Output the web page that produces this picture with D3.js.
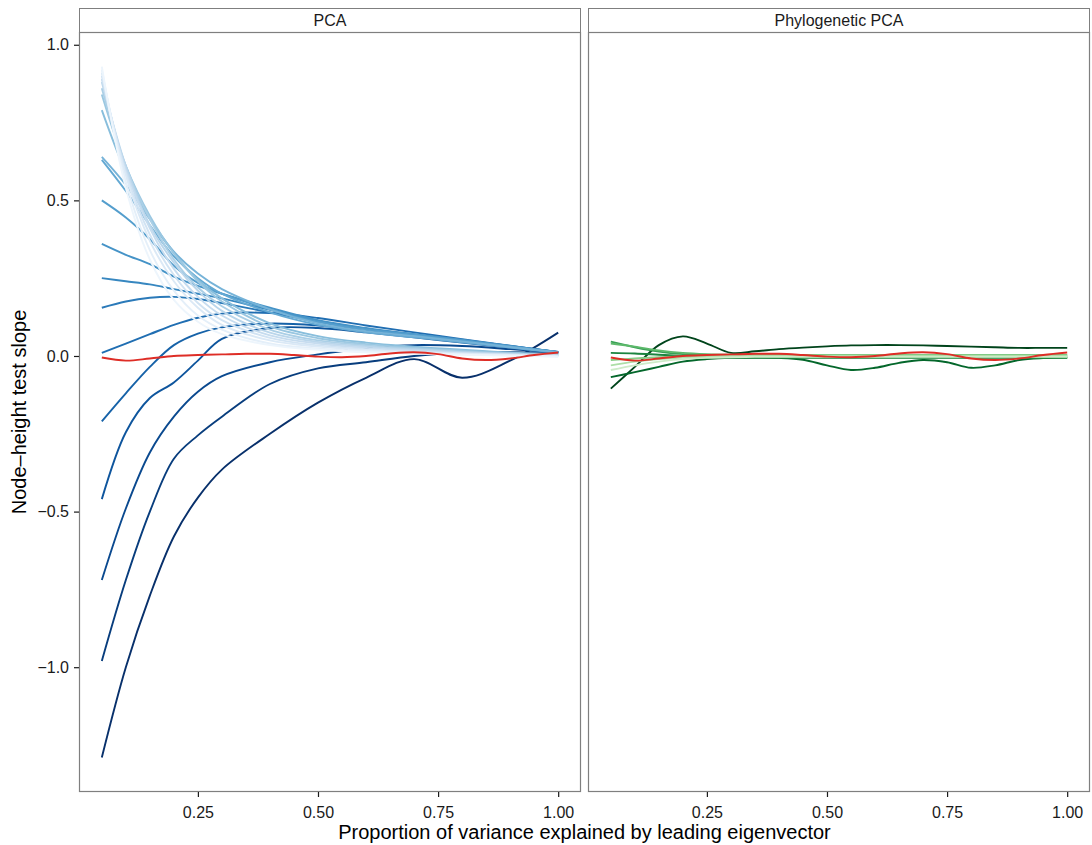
<!DOCTYPE html>
<html>
<head>
<meta charset="utf-8">
<script src="https://cdn.jsdelivr.net/npm/d3@7"></script>
<style>
  body { margin: 0; background: #fff; }
  text { font-family: "Liberation Sans", Arial, sans-serif; }
</style>
</head>
<body>
<svg id="chart" width="1092" height="845"></svg>
<script>
// knots along the x axis (proportion of variance)
var xCoarse = [0.05, 0.1, 0.15, 0.2, 0.25, 0.3, 0.4, 0.5, 0.6, 0.7, 0.8, 0.9, 1.0];
var xFine = [0.05, 0.1, 0.15, 0.2, 0.25, 0.3, 0.35, 0.4, 0.45, 0.5,
             0.55, 0.6, 0.65, 0.7, 0.75, 0.8, 0.85, 0.9, 0.95, 1.0];

var panels = ["PCA", "Phylogenetic PCA"];
var xTicks = [0.25, 0.5, 0.75, 1.0];
var yTicks = [-1.0, -0.5, 0.0, 0.5, 1.0];

// PCA panel, palest line first, darkest last (values on xCoarse)
var pcaSlopes = [
  [0.93, 0.54, 0.31, 0.18, 0.11, 0.07, 0.035, 0.02, 0.012, 0.008, 0.004, 0.001, -0.002],
  [0.92, 0.56, 0.34, 0.21, 0.13, 0.085, 0.04, 0.024, 0.015, 0.01, 0.005, 0.002, -0.002],
  [0.91, 0.58, 0.37, 0.24, 0.155, 0.10, 0.05, 0.03, 0.019, 0.012, 0.007, 0.003, 0.0],
  [0.90, 0.59, 0.39, 0.26, 0.17, 0.115, 0.058, 0.034, 0.022, 0.014, 0.008, 0.004, 0.0],
  [0.89, 0.60, 0.41, 0.28, 0.19, 0.13, 0.066, 0.04, 0.026, 0.017, 0.01, 0.005, 0.001],
  [0.88, 0.61, 0.42, 0.30, 0.21, 0.145, 0.075, 0.045, 0.03, 0.02, 0.012, 0.006, 0.002],
  [0.86, 0.61, 0.44, 0.31, 0.22, 0.16, 0.085, 0.05, 0.034, 0.023, 0.014, 0.008, 0.003],
  [0.84, 0.61, 0.45, 0.33, 0.24, 0.175, 0.095, 0.057, 0.038, 0.026, 0.017, 0.009, 0.004],
  [0.79, 0.59, 0.44, 0.33, 0.245, 0.185, 0.105, 0.064, 0.043, 0.03, 0.02, 0.011, 0.005],
  [0.64, 0.55, 0.44, 0.335, 0.265, 0.215, 0.15, 0.105, 0.08, 0.064, 0.047, 0.029, 0.012],
  [0.63, 0.53, 0.42, 0.32, 0.25, 0.20, 0.14, 0.10, 0.076, 0.06, 0.044, 0.027, 0.01],
  [0.50, 0.445, 0.375, 0.29, 0.235, 0.20, 0.15, 0.11, 0.085, 0.068, 0.05, 0.031, 0.013],
  [0.36, 0.325, 0.295, 0.255, 0.225, 0.20, 0.155, 0.115, 0.09, 0.07, 0.052, 0.032, 0.013],
  [0.25, 0.24, 0.23, 0.215, 0.20, 0.185, 0.148, 0.113, 0.088, 0.069, 0.051, 0.032, 0.013],
  [0.155, 0.175, 0.187, 0.19, 0.183, 0.17, 0.14, 0.11, 0.086, 0.068, 0.05, 0.031, 0.012],
  [0.01, 0.04, 0.07, 0.10, 0.123, 0.136, 0.138, 0.122, 0.098, 0.076, 0.054, 0.033, 0.012],
  [-0.21, -0.12, -0.035, 0.035, 0.072, 0.092, 0.104, 0.098, 0.083, 0.066, 0.048, 0.03, 0.012],
  [-0.46, -0.245, -0.135, -0.085, -0.015, 0.055, 0.09, 0.09, 0.076, 0.06, 0.043, 0.027, 0.011],
  [-0.72, -0.49, -0.31, -0.195, -0.115, -0.065, -0.02, 0.005, 0.025, 0.035, 0.032, 0.022, 0.01],
  [-0.98, -0.72, -0.50, -0.33, -0.255, -0.195, -0.09, -0.04, -0.02, 0.0, 0.01, 0.012, 0.01],
  [-1.29, -1.0, -0.77, -0.58, -0.455, -0.365, -0.25, -0.15, -0.07, -0.01, -0.07, -0.015, 0.075]
];

// Phylogenetic PCA panel, palest first (values on xFine)
var phyloSlopes = [
  [-0.045, -0.03, -0.018, -0.01, -0.006, -0.004, -0.003, -0.003, -0.003, -0.003, -0.003, -0.003, -0.003, -0.003, -0.003, -0.003, -0.003, -0.003, -0.003, -0.003],
  [-0.03, -0.018, -0.01, -0.005, -0.002, 0.0, 0.001, 0.001, 0.001, 0.001, 0.001, 0.001, 0.001, 0.001, 0.001, 0.001, 0.001, 0.001, 0.001, 0.001],
  [-0.013, -0.008, -0.004, -0.002, 0.0, 0.001, 0.002, 0.002, 0.002, 0.002, 0.002, 0.002, 0.002, 0.002, 0.002, 0.002, 0.002, 0.002, 0.002, 0.002],
  [0.04, 0.03, 0.018, 0.01, 0.006, 0.004, 0.003, 0.003, 0.003, 0.003, 0.003, 0.003, 0.003, 0.003, 0.003, 0.003, 0.003, 0.003, 0.003, 0.003],
  [0.046, 0.028, 0.014, 0.006, 0.003, 0.0, -0.002, -0.003, -0.004, -0.004, -0.004, -0.004, -0.004, -0.004, -0.004, -0.004, -0.004, -0.004, -0.004, -0.004],
  [0.01, 0.008, 0.004, 0.0, -0.003, -0.005, -0.006, -0.006, -0.006, -0.006, -0.006, -0.006, -0.006, -0.006, -0.006, -0.006, -0.006, -0.006, -0.006, -0.006],
  [-0.068, -0.052, -0.035, -0.018, -0.01, -0.006, -0.005, -0.006, -0.012, -0.03, -0.045, -0.038, -0.022, -0.013, -0.02, -0.038, -0.03, -0.013, -0.007, -0.005],
  [-0.105, -0.035, 0.035, 0.063, 0.04, 0.01, 0.015, 0.022, 0.027, 0.031, 0.034, 0.035, 0.035, 0.034, 0.032, 0.03, 0.028, 0.026, 0.026, 0.026]
];

// reference line shown in both panels (values on xFine)
var nullSlope = [-0.005, -0.015, -0.008, 0.0, 0.003, 0.005, 0.007, 0.007, 0.003, -0.002,
                 -0.004, 0.0, 0.008, 0.012, 0.006, -0.008, -0.013, -0.008, 0.003, 0.011];

var svg = d3.select("#chart");
var plotTop = 32, plotBottom = 792, stripTop = 8;
var panelLeft = [79, 588], panelWidth = 502;
var fontStack = "'Liberation Sans', Arial, sans-serif";
var lineWidth = 1.9;

var y = d3.scaleLinear().domain([-1.401, 1.041]).range([plotBottom, plotTop]);

var blues = d3.scaleSequential(d3.interpolateBlues).domain([-1, pcaSlopes.length - 1]);
var greens = d3.scaleSequential(d3.interpolateGreens).domain([-2, phyloSlopes.length - 1]);

function toPoints(xs, vals) {
  return vals.map(function (v, i) { return [xs[i], v]; });
}

panels.forEach(function (name, p) {
  var x0 = panelLeft[p];
  var x = d3.scaleLinear().domain([0.0025, 1.0475]).range([x0, x0 + panelWidth]);
  var line = d3.line()
    .x(function (d) { return x(d[0]); })
    .y(function (d) { return y(d[1]); })
    .curve(d3.curveCatmullRom.alpha(0.5));

  var g = svg.append("g");

  // strip
  g.append("rect")
    .attr("x", x0 + 0.5).attr("y", stripTop + 0.5)
    .attr("width", panelWidth - 1).attr("height", plotTop - stripTop)
    .attr("fill", "#fff").attr("stroke", "#7f7f7f").attr("stroke-width", 1);
  g.append("text")
    .attr("x", x0 + panelWidth / 2).attr("y", stripTop + 18)
    .attr("text-anchor", "middle").attr("font-size", "16px").attr("fill", "#1a1a1a")
    .text(name);

  // lines
  var clipId = "clip" + p;
  g.append("clipPath").attr("id", clipId).append("rect")
    .attr("x", x0).attr("y", plotTop).attr("width", panelWidth).attr("height", plotBottom - plotTop);
  var lg = g.append("g").attr("clip-path", "url(#" + clipId + ")");

  if (p === 0) {
    // darkest first so the pale ones sit on top
    pcaSlopes.slice().reverse().forEach(function (vals, k) {
      var i = pcaSlopes.length - 1 - k;
      lg.append("path")
        .attr("d", line(toPoints(xCoarse, vals)))
        .attr("fill", "none").attr("stroke", blues(i)).attr("stroke-width", lineWidth);
    });
  } else {
    phyloSlopes.slice().reverse().forEach(function (vals, k) {
      var i = phyloSlopes.length - 1 - k;
      lg.append("path")
        .attr("d", line(toPoints(xFine, vals)))
        .attr("fill", "none").attr("stroke", greens(i)).attr("stroke-width", lineWidth);
    });
  }
  lg.append("path")
    .attr("d", line(toPoints(xFine, nullSlope)))
    .attr("fill", "none").attr("stroke", "#de2d26").attr("stroke-width", lineWidth);

  // panel border
  g.append("rect")
    .attr("x", x0 + 0.5).attr("y", plotTop + 0.5)
    .attr("width", panelWidth - 1).attr("height", plotBottom - plotTop - 1)
    .attr("fill", "none").attr("stroke", "#7f7f7f").attr("stroke-width", 1.2);

  // x axis
  var xa = g.append("g").attr("transform", "translate(0," + plotBottom + ")")
    .call(d3.axisBottom(x).tickValues(xTicks).tickFormat(d3.format(".2f"))
      .tickSize(5).tickSizeOuter(0).tickPadding(10));
  xa.select(".domain").remove();
  xa.selectAll("line").attr("stroke", "#1a1a1a").attr("stroke-width", 1.2);
  xa.selectAll("text").attr("font-size", "16px").attr("fill", "#1a1a1a")
    .style("font-family", fontStack);

  if (p === 0) {
    var ya = g.append("g").attr("transform", "translate(" + x0 + ",0)")
      .call(d3.axisLeft(y).tickValues(yTicks).tickFormat(d3.format(".1f"))
        .tickSize(5).tickSizeOuter(0).tickPadding(5));
    ya.select(".domain").remove();
    ya.selectAll("line").attr("stroke", "#1a1a1a").attr("stroke-width", 1.2);
    ya.selectAll("text").attr("font-size", "16px").attr("fill", "#1a1a1a")
      .style("font-family", fontStack);
  }
});

// axis titles
svg.append("text")
  .attr("x", (panelLeft[0] + panelLeft[1] + panelWidth) / 2).attr("y", 839)
  .attr("text-anchor", "middle").attr("font-size", "20px").attr("fill", "#000")
  .text("Proportion of variance explained by leading eigenvector");

svg.append("text")
  .attr("transform", "translate(26," + (plotTop + plotBottom) / 2 + ") rotate(-90)")
  .attr("text-anchor", "middle").attr("font-size", "20px").attr("fill", "#000")
  .text("Node\u2013height test slope");
</script>
</body>
</html>
